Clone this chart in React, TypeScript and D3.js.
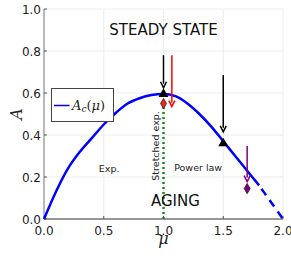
import React from 'react'
import * as d3 from 'd3'

// curve A_c(mu)
const muVals = [0, 0.1, 0.2, 0.3, 0.4, 0.5, 0.6, 0.7, 0.8, 0.9, 1.0, 1.1, 1.2, 1.3, 1.4, 1.5, 1.6, 1.7, 1.8, 1.9, 2.0]
const acVals = [0, 0.13, 0.24, 0.32, 0.385, 0.45, 0.505, 0.55, 0.575, 0.59, 0.595, 0.585, 0.55, 0.5, 0.44, 0.37, 0.3, 0.23, 0.16, 0.08, 0]
const dashFrom = 1.8

const triMu = [1.0, 1.5]
const triA = [0.595, 0.36]

const diamondMu = [1.0, 1.7]
const diamondA = [0.55, 0.145]
const diamondColors = ['#e8291c', '#800080']

const arrowMu = [1.0, 1.07, 1.5, 1.7]
const arrowFrom = [0.78, 0.78, 0.686, 0.348]
const arrowTo = [0.625, 0.535, 0.415, 0.178]
const arrowColors = ['#000000', '#ff0000', '#000000', '#800080']

const xTicks = [0, 0.5, 1.0, 1.5, 2.0]
const yTicks = [0, 0.2, 0.4, 0.6, 0.8, 1.0]

const W = 291
const H = 259

export default function App() {
  const x = d3.scaleLinear().domain([0, 2]).range([44, 283])
  const y = d3.scaleLinear().domain([0, 1]).range([219, 9])

  const pts: [number, number][] = muVals.map((m, i) => [m, acVals[i]])
  const line = d3.line<[number, number]>()
    .x(d => x(d[0]))
    .y(d => y(d[1]))
    .curve(d3.curveMonotoneX)
  const solid = line(pts.filter(d => d[0] <= dashFrom))
  const dashed = line(pts.filter(d => d[0] >= dashFrom))

  const tri = d3.symbol().type(d3.symbolTriangle).size(42)()
  const dia = d3.symbol().type(d3.symbolDiamond).size(30)()

  const font = 'DejaVu Sans, sans-serif'
  const serif = 'DejaVu Serif, Liberation Serif, serif'

  return (
    <svg width={W} height={H} style={{ position: 'absolute', left: 0, top: 0, background: 'white' }}>
      {/* grid */}
      {xTicks.filter(t => t > 0).map(t => (
        <line key={'gx' + t} x1={x(t)} x2={x(t)} y1={y(0)} y2={y(1)} stroke="#e8e8e8" strokeWidth={0.8} />
      ))}
      {yTicks.filter(t => t > 0).map(t => (
        <line key={'gy' + t} x1={x(0)} x2={x(2)} y1={y(t)} y2={y(t)} stroke="#e8e8e8" strokeWidth={0.8} />
      ))}

      {/* axes */}
      <line x1={x(0)} x2={x(0)} y1={y(0)} y2={y(1)} stroke="#8a8a8a" strokeWidth={1.2} />
      <line x1={x(0)} x2={x(2)} y1={y(0)} y2={y(0)} stroke="#333" strokeWidth={1.2} />
      {yTicks.map(t => (
        <line key={'ty' + t} x1={x(0)} x2={x(0) + 3} y1={y(t)} y2={y(t)} stroke="#555" strokeWidth={1} />
      ))}
      {xTicks.map(t => (
        <line key={'tx' + t} x1={x(t)} x2={x(t)} y1={y(0)} y2={y(0) - 3} stroke="#555" strokeWidth={1} />
      ))}
      {yTicks.map(t => (
        <text key={'ly' + t} x={x(0) - 3} y={y(t) + 4.5} textAnchor="end" fontFamily={font} fontSize={12} fill="#222">
          {t.toFixed(1)}
        </text>
      ))}
      {xTicks.map(t => (
        <text key={'lx' + t} x={x(t)} y={y(0) + 16} textAnchor="middle" fontFamily={font} fontSize={12} fill="#222">
          {t.toFixed(1)}
        </text>
      ))}

      {/* axis labels */}
      <text transform={`translate(22, ${y(0.5)}) rotate(-90)`} textAnchor="middle" fontFamily={serif} fontStyle="italic" fontSize={16} fill="#222">A</text>
      <text x={x(1)} y={244} textAnchor="middle" fontFamily={serif} fontStyle="italic" fontSize={16} fill="#222">μ</text>

      {/* stretched exp. boundary */}
      <line x1={x(1)} x2={x(1)} y1={y(0)} y2={y(0.55)} stroke="#1a8a1a" strokeWidth={2.5} strokeDasharray="2,3" />

      {/* curve */}
      <path d={solid ?? ''} fill="none" stroke="#0000ff" strokeWidth={2.5} />
      <path d={dashed ?? ''} fill="none" stroke="#0000ff" strokeWidth={2.5} strokeDasharray="8,6" strokeDashoffset={-4} />

      {/* arrows */}
      {arrowMu.map((m, i) => {
        const tipY = y(arrowTo[i])
        return (
          <g key={'ar' + i}>
            <line x1={x(m)} x2={x(m)} y1={y(arrowFrom[i])} y2={tipY - 4} stroke={arrowColors[i]} strokeWidth={1.5} />
            <path d={`M${x(m) - 3},${tipY - 6} L${x(m)},${tipY} L${x(m) + 3},${tipY - 6}`} fill="none" stroke={arrowColors[i]} strokeWidth={1.5} />
          </g>
        )
      })}

      {/* markers */}
      {triMu.map((m, i) => (
        <path key={'tr' + i} d={tri ?? ''} transform={`translate(${x(m)}, ${y(triA[i])})`} fill="#000" />
      ))}
      {diamondMu.map((m, i) => (
        <path key={'di' + i} d={dia ?? ''} transform={`translate(${x(m)}, ${y(diamondA[i])})`} fill={diamondColors[i]} stroke="#3a1010" strokeWidth={0.8} />
      ))}

      {/* region labels */}
      <text x={x(1.0)} y={y(0.875)} textAnchor="middle" fontFamily={font} fontSize={15} fill="#111">STEADY STATE</text>
      <text x={x(1.1)} y={y(0.062)} textAnchor="middle" fontFamily={font} fontSize={15} fill="#111">AGING</text>
      <text x={x(0.545)} y={y(0.224)} textAnchor="middle" fontFamily={font} fontSize={9.5} fill="#222">Exp.</text>
      <text x={x(1.29)} y={y(0.228)} textAnchor="middle" fontFamily={font} fontSize={9.5} fill="#222">Power law</text>
      <text transform={`translate(${x(1) - 5}, ${y(0.348)}) rotate(-90)`} textAnchor="middle" fontFamily={font} fontSize={9.5} fill="#222">Stretched exp.</text>

      {/* legend */}
      <rect x={51.5} y={88.5} width={62} height={33} fill="white" stroke="#444" strokeWidth={1} />
      <line x1={54} x2={69.5} y1={105.5} y2={105.5} stroke="#0000ff" strokeWidth={1.5} />
      <text x={72} y={110} fontFamily={serif} fontSize={13} fill="#222">
        <tspan fontStyle="italic">A</tspan>
        <tspan fontStyle="italic" fontSize={9} dy={2}>c</tspan>
        <tspan dy={-2}>(</tspan>
        <tspan fontStyle="italic">μ</tspan>
        <tspan>)</tspan>
      </text>
    </svg>
  )
}
